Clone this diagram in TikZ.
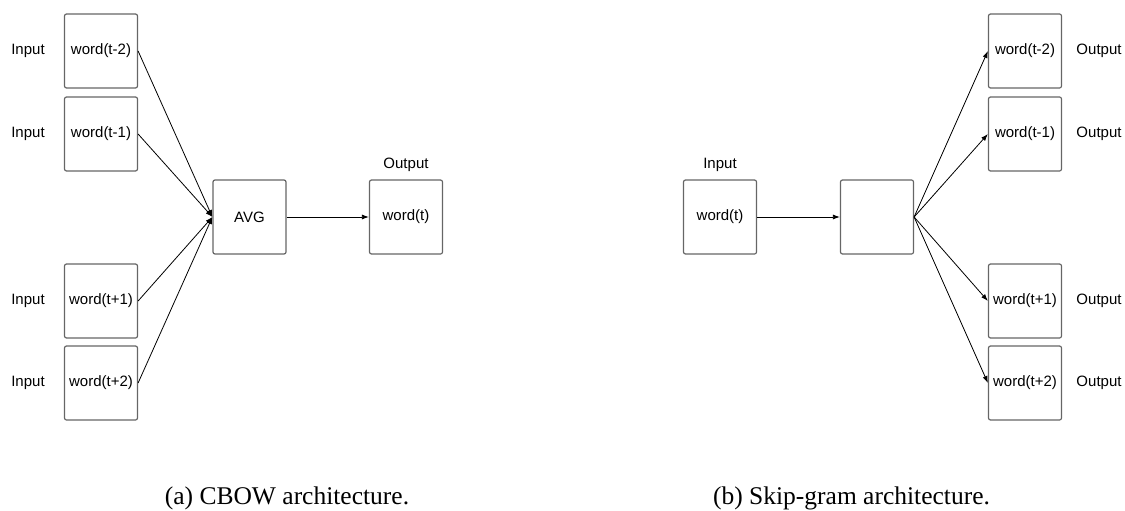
\documentclass[tikz,border=0pt]{standalone}
\usepackage{fontspec}
\setmainfont{Liberation Serif}
\newfontfamily\labelfont{Liberation Sans}
\usetikzlibrary{arrows.meta}
\begin{document}
\begin{tikzpicture}[x=1pt,y=-1pt,
  wbox/.style={draw=black!60, line width=1.2pt, rounded corners=2pt,
    minimum width=73pt, minimum height=74pt, inner sep=0pt,
    font=\labelfont\fontsize{15}{18}\selectfont},
  lbl/.style={font=\labelfont\fontsize{15}{18}\selectfont, inner sep=0pt},
  conn/.style={line width=0.8pt, -{Latex[length=7pt,width=5pt]}},
  captext/.style={font=\fontsize{25.5}{30}\selectfont, anchor=base, inner sep=0pt}]
\useasboundingbox (0,0) rectangle (1125,511);

% ---------- CBOW ----------
\node[wbox] (im2) at (101,51)  {word(t-2)};
\node[wbox] (im1) at (101,134) {word(t-1)};
\node[wbox] (ip1) at (101,301) {word(t+1)};
\node[wbox] (ip2) at (101,383) {word(t+2)};
\node[lbl] (li1) at (28,51)  {Input};
\node[lbl] (li2) at (28,134) {Input};
\node[lbl] (li3) at (28,301) {Input};
\node[lbl] (li4) at (28,383) {Input};
\node[wbox] (avg) at (249.5,217) {AVG};
\node[wbox] (out) at (406,217) {word(t)};
\node[lbl] (lout) at (406,165) {Output};
\foreach \n in {im2,im1,ip1,ip2} \draw[conn] (\n.east) -- (avg.west);
\draw[conn] (avg.east) -- (out.west);
\node[captext] (capa) at (287,504.5) {(a) CBOW architecture.};

% ---------- Skip-gram ----------
\node[wbox] (sin) at (720,217) {word(t)};
\node[lbl] (lsin) at (720,165) {Input};
\node[wbox] (hid) at (877,217) {};
\node[wbox] (om2) at (1025,51)  {word(t-2)};
\node[wbox] (om1) at (1025,134) {word(t-1)};
\node[wbox] (op1) at (1025,301) {word(t+1)};
\node[wbox] (op2) at (1025,383) {word(t+2)};
\node[lbl] (lo1) at (1099,51)  {Output};
\node[lbl] (lo2) at (1099,134) {Output};
\node[lbl] (lo3) at (1099,301) {Output};
\node[lbl] (lo4) at (1099,383) {Output};
\draw[conn] (sin.east) -- (hid.west);
\foreach \n in {om2,om1,op1,op2} \draw[conn] (hid.east) -- (\n.west);
\node[captext] (capb) at (851.5,504.5) {(b) Skip-gram architecture.};
\end{tikzpicture}
\end{document}
